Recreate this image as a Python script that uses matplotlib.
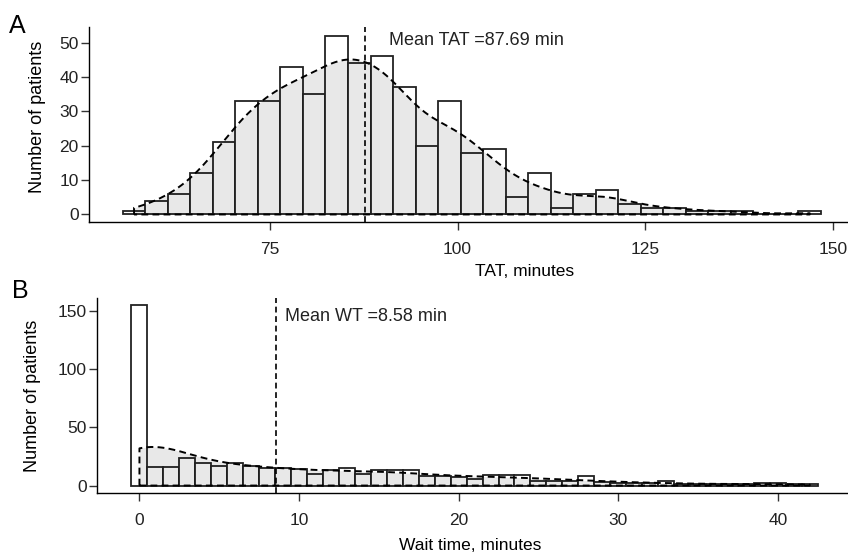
import numpy as np
import matplotlib.pyplot as plt

# A: turnaround time, bins 3 min wide
tat_start = 55.4
tat_width = 3.0
tat_counts = [1, 4, 6, 12, 21, 33, 33, 43, 35, 52, 44, 46, 37, 20, 33,
              18, 19, 5, 12, 2, 6, 7, 3, 2, 2, 1, 1, 1, 0, 0, 1]
tat_mean = 87.69

# B: wait time, bins 1 min wide centred on whole minutes
wt_start = -0.5
wt_width = 1.0
wt_counts = [155, 16, 16, 24, 19, 17, 19, 17, 15, 15, 14, 10, 13, 15, 10,
             13, 13, 13, 8, 8, 7, 6, 9, 9, 9, 4, 4, 4, 8, 3, 2, 2, 2, 4,
             1, 1, 1, 1, 1, 2, 2, 1, 1]
wt_mean = 8.58


def density_curve(start, width, counts, grid=512):
    # gaussian kde of the binned data, scaled to counts like geom_density
    centers = start + width * (np.arange(len(counts)) + 0.5)
    data = np.repeat(centers, counts)
    n = data.size
    q75, q25 = np.percentile(data, [75, 25])
    bw = 0.9 * min(data.std(ddof=1), (q75 - q25) / 1.34) * n ** -0.2
    xs = np.linspace(data.min(), data.max(), grid)
    dens = np.exp(-0.5 * ((xs[:, None] - data[None, :]) / bw) ** 2).sum(axis=1)
    dens /= n * bw * np.sqrt(2 * np.pi)
    return xs, dens * n * width


plt.rcParams['font.family'] = ['Liberation Sans', 'DejaVu Sans']
dash = (0, (3.5, 2.2))

W, H = 848, 554
fig = plt.figure(figsize=(W / 100, H / 100), dpi=100)
axA = fig.add_axes([89 / W, 1 - 221.7 / H, (W - 89) / W, 195 / H])
axB = fig.add_axes([97 / W, 1 - 493 / H, (W - 97) / W, 195 / H])


def draw(ax, start, width, counts, mean):
    edges = start + width * np.arange(len(counts))
    ax.bar(edges, counts, width=width, align='edge', color='white',
           edgecolor='#222222', linewidth=1.3, zorder=2)
    xs, ys = density_curve(start, width, counts)
    ax.fill_between(xs, ys, color='black', alpha=0.09, linewidth=0, zorder=3)
    ax.plot(np.r_[xs[0], xs, xs[-1], xs[0]], np.r_[0, ys, 0, 0],
            ls=dash, color='black', lw=1.4, zorder=4)
    ax.axvline(mean, ls=dash, color='black', lw=1.2, zorder=5)

    for s in ['top', 'right']:
        ax.spines[s].set_visible(False)
    for s in ['left', 'bottom']:
        ax.spines[s].set_linewidth(1.0)
    ax.tick_params(axis='both', direction='out', length=5.5, width=1,
                   color='#333333', labelsize=12.5, labelcolor='#222222')
    ax.tick_params(axis='x', pad=9)
    ax.tick_params(axis='y', pad=2)


draw(axA, tat_start, tat_width, tat_counts, tat_mean)
axA.set_xlim(50.9, 152.0)
axA.set_ylim(-2.1, 54.6)
axA.set_xticks([75, 100, 125, 150])
axA.set_yticks([0, 10, 20, 30, 40, 50])
axA.text(90.8, 50.7, f'Mean TAT ={tat_mean} min', va='center', ha='left',
         fontsize=13, color='#222222')
axA.set_xlabel('TAT, minutes', fontsize=12.5, va='center')
axA.xaxis.set_label_coords(0.574, -0.255)
axA.set_ylabel('Number of patients', fontsize=13)
axA.yaxis.set_label_coords(-0.056, 0.537)

draw(axB, wt_start, wt_width, wt_counts, wt_mean)
axB.set_xlim(-2.66, 44.4)
axB.set_ylim(-6.4, 161)
axB.set_xticks([0, 10, 20, 30, 40])
axB.set_yticks([0, 50, 100, 150])
axB.text(9.12, 145, f'Mean WT ={wt_mean} min', va='center', ha='left',
         fontsize=13, color='#222222')
axB.set_xlabel('Wait time, minutes', fontsize=12.5, va='center')
axB.xaxis.set_label_coords(0.497, -0.267)
axB.set_ylabel('Number of patients', fontsize=13)
axB.yaxis.set_label_coords(-0.075, 0.5)

fig.text(17 / W, 1 - 26 / H, 'A', fontsize=18, ha='center', va='center')
fig.text(20 / W, 1 - 291 / H, 'B', fontsize=18, ha='center', va='center')

fig.savefig('out.png', dpi=100)
